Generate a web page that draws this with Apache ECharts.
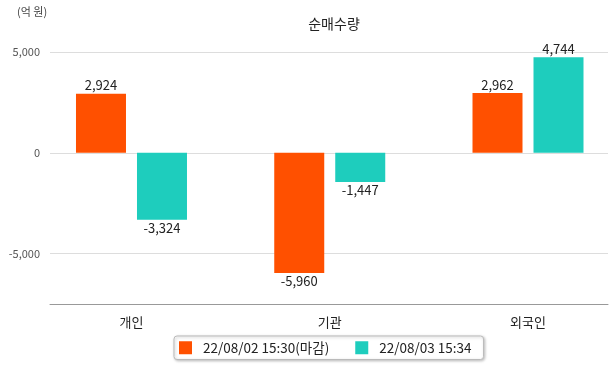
<!DOCTYPE html>
<html><head><meta charset="utf-8">
<script src="https://cdn.jsdelivr.net/npm/echarts@6/dist/echarts.min.js"></script>
<style>html,body{margin:0;padding:0;background:#fff}#c{width:615px;height:368px}</style>
</head><body><div id="c"></div>
<script>
const categories = ['개인', '기관', '외국인'];
const seriesNames = ['22/08/02 15:30(마감)', '22/08/03 15:34'];
const values0802 = [2924, -5960, 2962];
const values0803 = [-3324, -1447, 4744];
const yTicks = [-5000, 0, 5000];

const FONT = '"Noto Sans CJK KR", "Noto Sans", sans-serif';
const colors = ['#FF5000', '#1ECDBD'];
const chart = echarts.init(document.getElementById('c'));
const yMin = -7500, yMax = 5000;
const fmt = v => v.toLocaleString('en-US');
const catIdx = categories.map((c, i) => i);

chart.setOption({
  animation: false,
  textStyle: { fontFamily: FONT },
  title: {
    text: '순매수량', left: 329, top: 12, textAlign: 'center',
    textStyle: { fontFamily: FONT, fontSize: 14, fontWeight: 'normal', color: '#222' }
  },
  graphic: [{ type: 'text', left: 17, top: 6, style: { text: '(억 원)', font: '11px ' + FONT, fill: '#444' } }],
  legend: {
    top: 336, left: 174,
    itemWidth: 13, itemHeight: 13, itemGap: 26,
    icon: 'rect',
    padding: [5, 12, 5, 5],
    borderColor: '#bbb', borderWidth: 1, borderRadius: 3,
    shadowColor: 'rgba(0,0,0,0.25)', shadowBlur: 3, shadowOffsetX: 1, shadowOffsetY: 1,
    backgroundColor: '#fff',
    textStyle: { fontFamily: FONT, fontSize: 13.5, color: '#222', padding: [0, 0, 0, 6] },
    data: seriesNames
  },
  grid: { left: 50, right: 7, top: 52, bottom: 64 },
  xAxis: {
    type: 'value', min: -0.411, max: 2.4035,
    axisLine: { show: true, onZero: false, lineStyle: { color: '#999' } },
    axisTick: { show: false },
    splitLine: { show: false },
    axisLabel: { customValues: catIdx, fontFamily: FONT, fontSize: 13, color: '#222', margin: 12,
      formatter: v => categories[Math.round(v)] }
  },
  yAxis: {
    type: 'value', min: yMin, max: yMax, interval: 2500,
    axisLine: { show: false }, axisTick: { show: false },
    axisLabel: { fontFamily: FONT, fontSize: 11, color: '#555', margin: 10,
      formatter: v => yTicks.includes(v) ? fmt(v) : '' },
    splitLine: { show: true, lineStyle: { color: ['rgba(0,0,0,0)', '#ddd'] } }
  },
  series: [
    { name: seriesNames[0], type: 'bar', data: values0802.map((v, i) => [catIdx[i], v]),
      barWidth: 50, barGap: '22%', itemStyle: { color: colors[0] },
      label: { show: true, position: 'outside', distance: 2, fontFamily: FONT, fontSize: 13, color: '#222',
        formatter: p => fmt(p.value[1]) } },
    { name: seriesNames[1], type: 'bar', data: values0803.map((v, i) => [catIdx[i], v]),
      barWidth: 50, barGap: '22%', itemStyle: { color: colors[1] },
      label: { show: true, position: 'outside', distance: 2, fontFamily: FONT, fontSize: 13, color: '#222',
        formatter: p => fmt(p.value[1]) } }
  ]
});
</script></body></html>
